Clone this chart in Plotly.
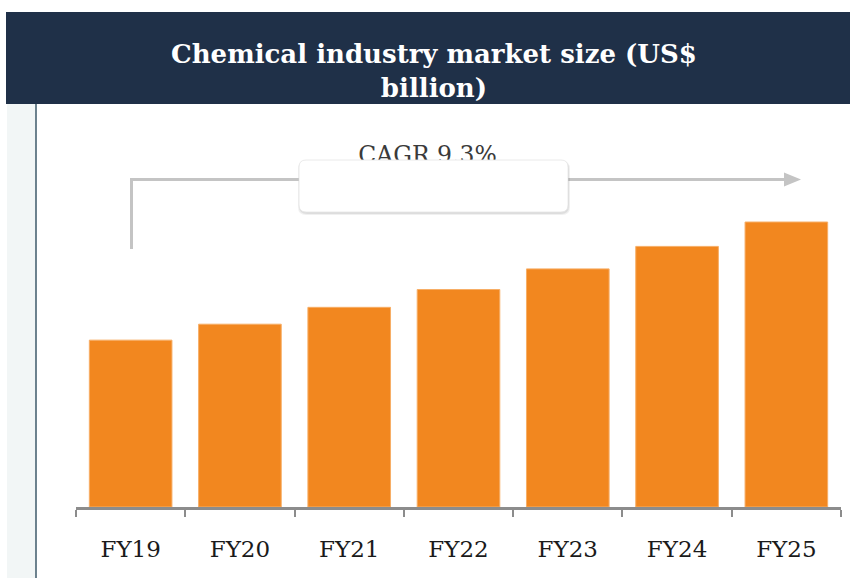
import plotly.graph_objects as go

# ---- data ----
categories = ["FY19", "FY20", "FY21", "FY22", "FY23", "FY24", "FY25"]
market_size = [178, 195, 213, 232, 254, 278, 304]
cagr_label = "CAGR 9.3%"
title_text = "Chemical industry market size (US$<br>billion)"

# ---- geometry (pixels) ----
W, H = 850, 578
ML, MR, MT, MB = 76, 9, 110, 71
PW, PH = W - ML - MR, H - MT - MB
YMAX = 423.5


def px(X):
    return (X - ML) / PW


def py(Y):
    return (H - MB - Y) / PH


def rrect(x0, y0, x1, y1, r):
    a, b, c, d = px(x0), px(x1), py(y0), py(y1)
    rx, ry = r / PW, r / PH
    return (f"M {a+rx},{c} L {b-rx},{c} Q {b},{c} {b},{c-ry} "
            f"L {b},{d+ry} Q {b},{d} {b-rx},{d} L {a+rx},{d} "
            f"Q {a},{d} {a},{d+ry} L {a},{c-ry} Q {a},{c} {a+rx},{c} Z")


xs = list(range(len(categories)))

fig = go.Figure()
fig.add_trace(go.Bar(
    x=xs, y=market_size,
    marker=dict(color="#F2871F", line=dict(color="#F7AE66", width=1)),
    width=0.756, hoverinfo="skip",
))

# CAGR text drawn as a trace so the white box can sit above it
fig.add_trace(go.Scatter(
    x=[-0.5 + (427.5 - ML) / (PW / 7)], y=[(H - MB - 157) / (PH / YMAX)],
    mode="text", text=[cagr_label], textposition="middle center",
    textfont=dict(family="DejaVu Serif", size=23.5, color="#3a3a3a"),
    hoverinfo="skip", cliponaxis=False,
))

shapes = [
    # title bar
    dict(type="rect", xref="paper", yref="paper", x0=px(6), x1=px(850),
         y0=py(104), y1=py(12), fillcolor="#1F3048", line=dict(width=0), layer="below"),
    # left strip
    dict(type="rect", xref="paper", yref="paper", x0=px(7), x1=px(36),
         y0=py(578), y1=py(104), fillcolor="#F2F6F6", line=dict(width=0), layer="below"),
    dict(type="line", xref="paper", yref="paper", x0=px(36), x1=px(36),
         y0=py(578), y1=py(104), line=dict(color="#3E5A6A", width=1.5), layer="below"),
    # CAGR connector
    dict(type="path", xref="paper", yref="paper",
         path=f"M {px(131.5)},{py(249)} L {px(131.5)},{py(179.5)} L {px(786)},{py(179.5)}",
         line=dict(color="#C4C4C4", width=3), layer="below"),
    dict(type="path", xref="paper", yref="paper",
         path=f"M {px(784)},{py(172.5)} L {px(801)},{py(179.5)} L {px(784)},{py(186.5)} Z",
         fillcolor="#C4C4C4", line=dict(width=0), layer="below"),
    # box shadow
    dict(type="path", xref="paper", yref="paper", path=rrect(298, 161, 570, 215, 8),
         fillcolor="rgba(0,0,0,0.06)", line=dict(width=0), layer="above"),
    dict(type="path", xref="paper", yref="paper", path=rrect(299, 161, 569, 214, 8),
         fillcolor="rgba(0,0,0,0.08)", line=dict(width=0), layer="above"),
    # white box
    dict(type="path", xref="paper", yref="paper", path=rrect(299, 160, 568, 212, 7),
         fillcolor="white", line=dict(color="#E4E4E4", width=0.8), layer="above"),
]

fig.update_layout(
    width=W, height=H,
    margin=dict(l=ML, r=MR, t=MT, b=MB, pad=0),
    paper_bgcolor="white", plot_bgcolor="white",
    showlegend=False,
    shapes=shapes,
    annotations=[dict(
        text="<b>" + title_text + "</b>", xref="paper", yref="paper",
        x=px(434), y=py(71), xanchor="center", yanchor="middle",
        showarrow=False, align="center",
        font=dict(family="DejaVu Serif", size=26, color="white"),
    )],
    xaxis=dict(
        range=[-0.5, len(categories) - 0.5],
        tickmode="array", tickvals=xs, ticktext=categories,
        ticks="outside", ticklen=0, ticklabelstandoff=20,
        tickfont=dict(family="DejaVu Serif", size=23, color="#1a1a1a"),
        showline=True, linecolor="#8C8C8C", linewidth=2.5,
        showgrid=False, zeroline=False, fixedrange=True,
        minor=dict(tickvals=[i - 0.5 for i in range(len(categories) + 1)],
                   ticks="outside", ticklen=7, tickwidth=2, tickcolor="#8C8C8C",
                   showgrid=False),
    ),
    yaxis=dict(range=[0, YMAX], visible=False, fixedrange=True),
)

fig.write_html("out.html", config={"displayModeBar": False})

# remove the default page margin so the figure sits at the window origin
with open("out.html", encoding="utf-8") as f:
    html = f.read()
html = html.replace("<body>", '<body style="margin:0;overflow:hidden">', 1)
with open("out.html", "w", encoding="utf-8") as f:
    f.write(html)
